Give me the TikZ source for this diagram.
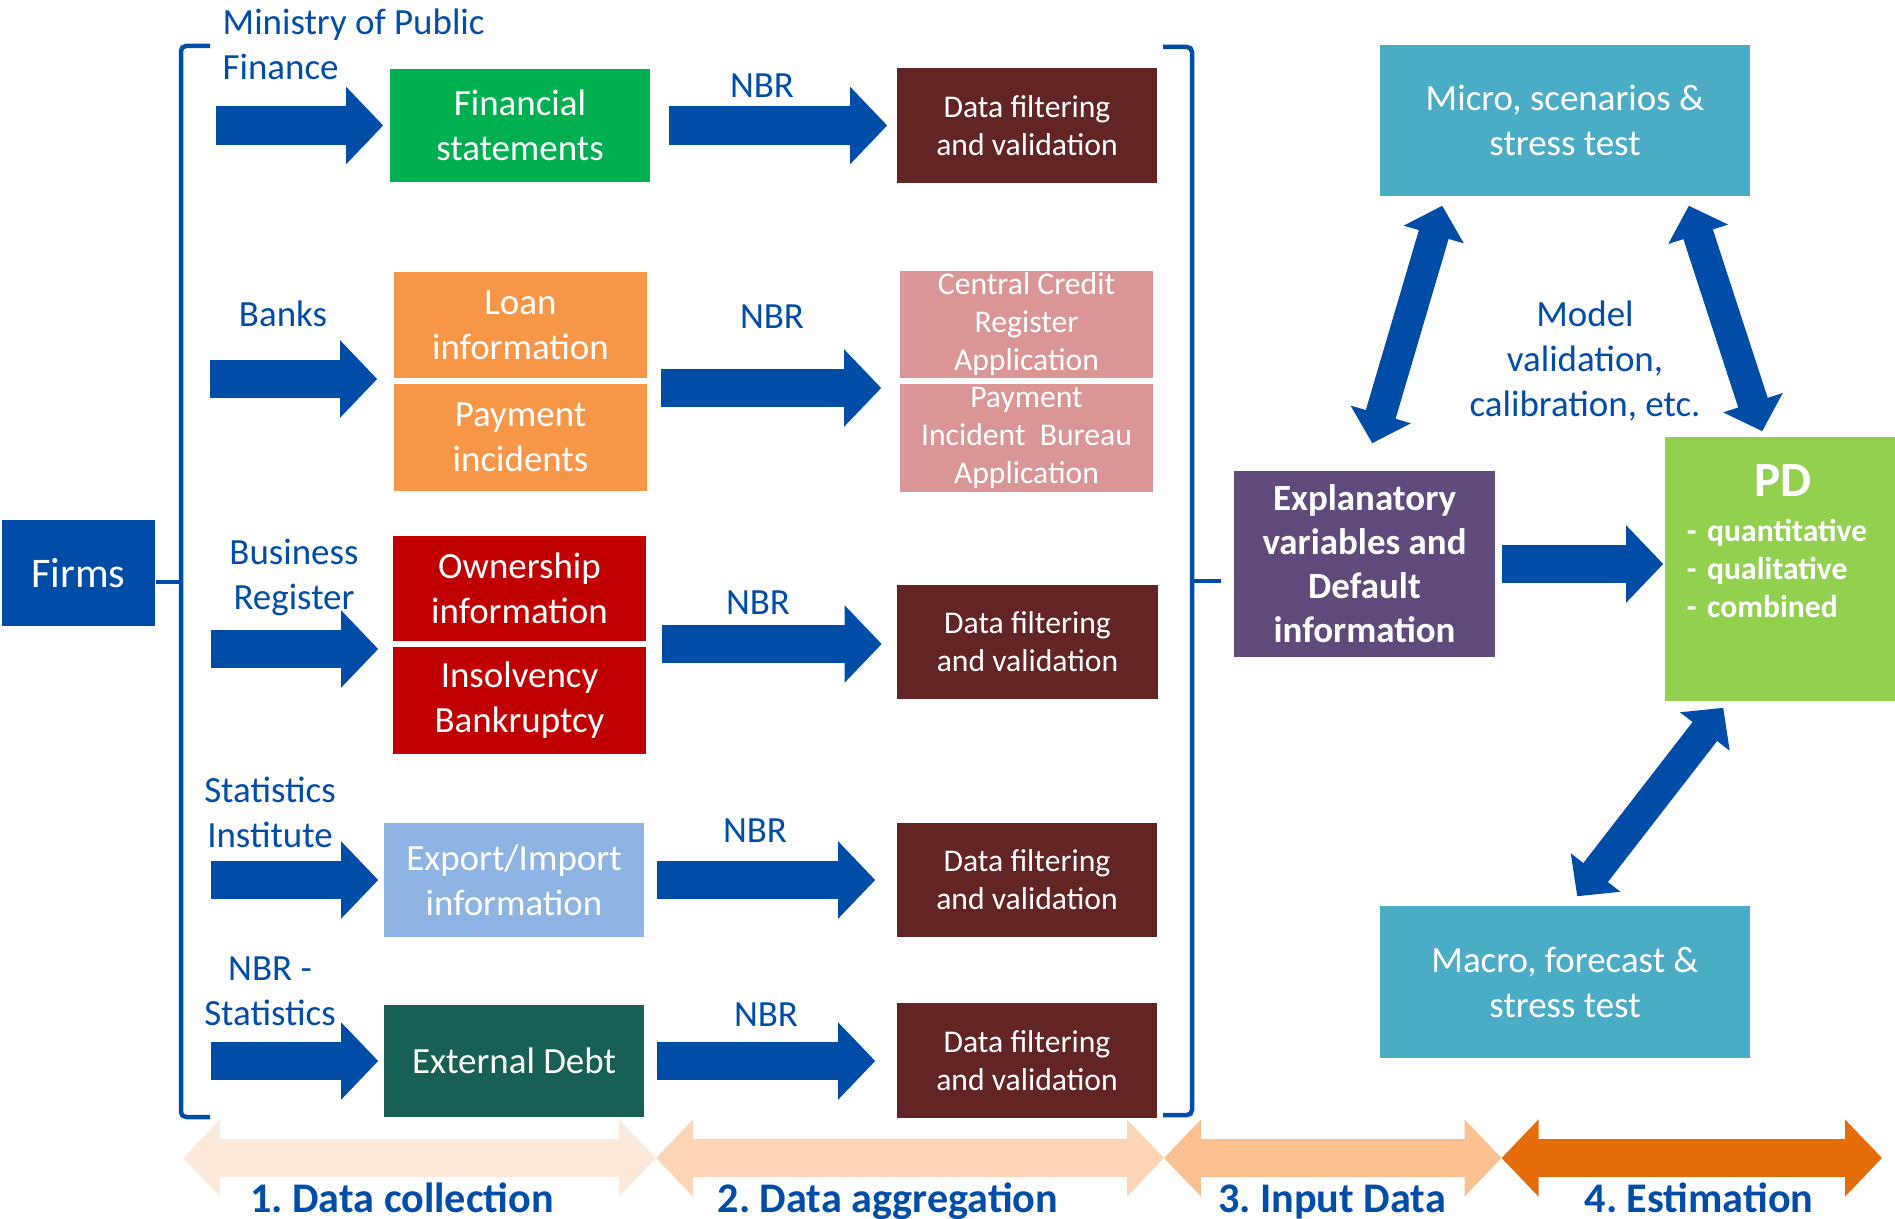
\documentclass[tikz,border=0pt]{standalone}
\usepackage{fontspec}
\setmainfont{Carlito}
\usetikzlibrary{arrows.meta}
\frenchspacing

\definecolor{nbrblue}{HTML}{004DA8}
\definecolor{fsgreen}{HTML}{00B050}
\definecolor{loanorange}{HTML}{F79646}
\definecolor{dfbrown}{HTML}{632523}
\definecolor{ccrpink}{HTML}{D99694}
\definecolor{ownred}{HTML}{C00000}
\definecolor{expblue}{HTML}{8EB4E3}
\definecolor{debtgreen}{HTML}{185F54}
\definecolor{explpurple}{HTML}{604A7B}
\definecolor{pdgreen}{HTML}{92D050}
\definecolor{microteal}{HTML}{4BACC6}
\definecolor{phaseA}{HTML}{FDE9D9}
\definecolor{phaseB}{HTML}{FBD5B5}
\definecolor{phaseC}{HTML}{FAC090}
\definecolor{phaseD}{HTML}{E46C0A}

\tikzset{
  box/.style={inner sep=0pt, align=center, text=white, font=\fontsize{10.5}{12.8}\selectfont},
  databox/.style={box, minimum width=2.53cm, minimum height=1.06cm},
  dfbox/.style={box, fill=dfbrown, minimum width=2.6cm, minimum height=1.14cm, font=\fontsize{9}{10.8}\selectfont},
  src/.style={text=nbrblue, align=center, inner sep=0pt, font=\fontsize{10.5}{12.8}\selectfont},
  nbr/.style={src, anchor=base},
  blk/.style={draw=nbrblue, line width=0.38cm, -{Triangle[length=0.37cm, width=0.75cm]}},
  dblk/.style={draw=nbrblue, line width=0.31cm, {Triangle[length=0.3cm, width=0.61cm]}-{Triangle[length=0.3cm, width=0.61cm]}},
  phase/.style={line width=0.38cm, {Triangle[length=0.37cm, width=0.75cm]}-{Triangle[length=0.37cm, width=0.75cm]}},
  phaselabel/.style={text=nbrblue, anchor=base, inner sep=0pt, font=\fontsize{12}{14}\selectfont\bfseries},
  bracket/.style={draw=nbrblue, line width=0.045cm, rounded corners=0.05cm}
}

\begin{document}
\begin{tikzpicture}[x=0.01cm, y=-0.01cm]
    \useasboundingbox (0,0) rectangle (1895,1219);

    % Firms and the left bracket
    \node[box, fill=nbrblue, minimum width=1.53cm, minimum height=1.06cm, font=\fontsize{12}{14}\selectfont] (firms) at (78.5,573) {Firms};
    \coordinate (lbr) at (181,582);
    \draw[bracket] (210,46) -- (181,46) -- (lbr) -- (181,1117) -- (210,1117);
    \draw[bracket] (lbr) -- (lbr -| firms.east);

    % --- Sources ---
    \node[src, anchor=west, align=left] (mof) at (222,44.5) {Ministry of Public\\Finance};
    \node[src, anchor=base] (banks) at (283,327) {Banks};
    \node[src] (busreg) at (294,577) {Business\\Register};
    \node[src] (statinst) at (270,812) {Statistics\\Institute};
    \node[src] (nbrstat) at (270,991) {NBR -\\Statistics};

    % --- Collected data ---
    \node[box, fill=fsgreen, minimum width=2.6cm, minimum height=1.13cm] (fin) at (520,125.5) {Financial\\statements};
    \node[databox, fill=loanorange] (loan) at (520.5,325) {Loan\\information};
    \node[databox, fill=loanorange, minimum height=1.07cm] (pay) at (520.5,437.5) {Payment\\incidents};
    \node[databox, fill=ownred, minimum height=1.05cm] (own) at (519.5,588.5) {Ownership\\information};
    \node[databox, fill=ownred, minimum height=1.07cm] (ins) at (519.5,700.5) {Insolvency\\Bankruptcy};
    \node[box, fill=expblue, minimum width=2.6cm, minimum height=1.14cm] (expimp) at (514,880) {Export/Import\\information};
    \node[box, fill=debtgreen, minimum width=2.6cm, minimum height=1.12cm] (debt) at (514,1061) {External Debt};

    % --- Aggregated data ---
    \node[dfbox] (df1) at (1027,125.5) {Data filtering\\and validation};
    \node[dfbox, fill=ccrpink, minimum width=2.53cm, minimum height=1.07cm] (ccr) at (1026.5,324.5) {Central Credit\\Register\\Application};
    \node[dfbox, fill=ccrpink, minimum width=2.53cm, minimum height=1.08cm] (pib) at (1026.5,438) {Payment\\Incident~ Bureau\\Application};
    \node[dfbox] (df3) at (1027.5,642) {Data filtering\\and validation};
    \node[dfbox] (df4) at (1027,880) {Data filtering\\and validation};
    \node[dfbox] (df5) at (1027,1060.5) {Data filtering\\and validation};

    % Block arrows into the collected data
    \coordinate (s1) at (216,125.5);
    \coordinate (s2) at (210,379);
    \coordinate (s3) at (211,649);
    \coordinate (s4) at (211,880);
    \coordinate (s5) at (211,1061);
    \draw[blk, shorten >=0.06cm] (s1) -- (s1 -| fin.west);
    \draw[blk, shorten >=0.16cm] (s2) -- (s2 -| loan.west);
    \draw[blk, shorten >=0.14cm] (s3) -- (s3 -| own.west);
    \draw[blk, shorten >=0.05cm] (s4) -- (s4 -| expimp.west);
    \draw[blk, shorten >=0.05cm] (s5) -- (s5 -| debt.west);

    % NBR arrows into the aggregated data
    \coordinate (n1) at (669,125.5);
    \coordinate (n2) at (661,388);
    \coordinate (n3) at (662,644);
    \coordinate (n4) at (657,880);
    \coordinate (n5) at (657,1061);
    \draw[blk, shorten >=0.09cm] (n1) -- (n1 -| df1.west);
    \draw[blk, shorten >=0.18cm] (n2) -- (n2 -| ccr.west);
    \draw[blk, shorten >=0.15cm] (n3) -- (n3 -| df3.west);
    \draw[blk, shorten >=0.21cm] (n4) -- (n4 -| df4.west);
    \draw[blk, shorten >=0.21cm] (n5) -- (n5 -| df5.west);
    \node[nbr] (nbr1) at (762,98) {NBR};
    \node[nbr] (nbr2) at (772,329) {NBR};
    \node[nbr] (nbr3) at (758,614) {NBR};
    \node[nbr] (nbr4) at (755,842) {NBR};
    \node[nbr] (nbr5) at (766,1026) {NBR};

    % Right bracket
    \coordinate (rbr) at (1192,581);
    \draw[bracket] (1163,47) -- (1192,47) -- (rbr) -- (1192,1115) -- (1163,1115);
    \draw[bracket] (rbr) -- (1221,581);

    % --- Input data and estimation ---
    \node[box, fill=explpurple, minimum width=2.61cm, minimum height=1.86cm, font=\fontsize{10.5}{12.5}\selectfont\bfseries] (expl) at (1364.5,564) {Explanatory\\variables and\\Default\\information};
    \node[box, fill=pdgreen, minimum width=2.3cm, minimum height=2.64cm, text width=1.86cm, align=left, font=\fontsize{9}{10.7}\selectfont\bfseries] (pd) at (1780,569) {\hspace*{0.67cm}{\fontsize{14}{16}\selectfont PD}\\[2.1pt]- quantitative\\- qualitative\\- combined\rule[-0.56cm]{0pt}{0.56cm}};
    \node[box, fill=microteal, minimum width=3.7cm, minimum height=1.51cm] (micro) at (1565,120.5) {Micro, scenarios \&\\stress test};
    \node[box, fill=microteal, minimum width=3.7cm, minimum height=1.52cm] (macro) at (1565,982) {Macro, forecast \&\\stress test};
    \node[src] (modval) at (1585,361.5) {Model\\validation,\\calibration, etc.};

    \draw[blk, shorten <=0.06cm, shorten >=0.01cm] (expl.east) -- (expl.east -| pd.west);
    \draw[dblk] ([shift={(139,-27)}]expl.north west) -- ([shift={(63,9)}]micro.south west);
    \draw[dblk] ([shift={(-62,9)}]micro.south east) -- ([shift={(98,-5)}]pd.north west);
    \draw[dblk] ([shift={(59,6)}]pd.south west) -- ([shift={(198,-9)}]macro.north west);

    % --- Phases along the bottom ---
    \coordinate (p0) at (183,1158);
    \coordinate (p1) at (656,1158);
    \coordinate (p2) at (1164,1158);
    \coordinate (p3) at (1501.5,1158);
    \coordinate (p4) at (1882,1158);
    \draw[phase, draw=phaseA] (p0) -- (p1);
    \draw[phase, draw=phaseB] (p1) -- (p2);
    \draw[phase, draw=phaseC] (p2) -- (p3);
    \draw[phase, draw=phaseD] (p3) -- (p4);
    \node[phaselabel] (ph1) at (402,1212) {1. Data collection};
    \node[phaselabel] (ph2) at (888,1212) {2. Data aggregation};
    \node[phaselabel] (ph3) at (1332,1212) {3. Input Data};
    \node[phaselabel] (ph4) at (1699,1212) {4. Estimation};
\end{tikzpicture}
\end{document}
